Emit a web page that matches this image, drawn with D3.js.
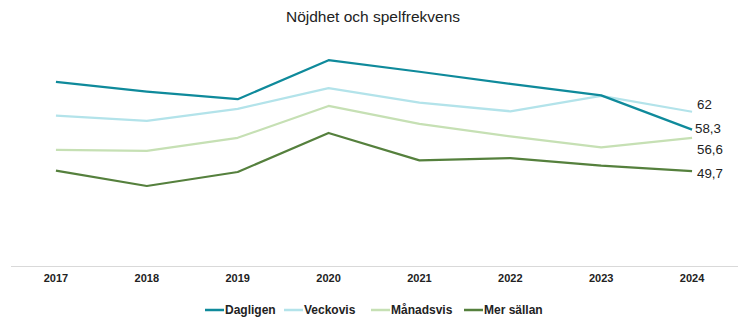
<!DOCTYPE html>
<html><head><meta charset="utf-8">
<script src="https://cdn.jsdelivr.net/npm/d3@7"></script>
<style>body{margin:0;background:#fff}svg{display:block}</style>
</head><body>
<div id="chart"></div>
<script>
const years = ["2017","2018","2019","2020","2021","2022","2023","2024"];
const seriesNames = ["Dagligen","Veckovis","Månadsvis","Mer sällan"];
const dagligen  = [68.2, 66.2, 64.6, 72.7, 70.3, 67.8, 65.4, 58.3];
const veckovis  = [61.2, 60.1, 62.6, 66.9, 63.9, 62.1, 65.3, 62.0];
const manadsvis = [54.1, 53.9, 56.6, 63.2, 59.5, 56.9, 54.6, 56.6];
const merSallan = [49.8, 46.6, 49.5, 57.6, 51.9, 52.4, 50.8, 49.7];
const endLabels = ["58,3","62","56,6","49,7"];
const colors = ["#0f8a9b","#b3e3ea","#c6e0b4","#55803d"];
const seriesValues = [dagligen, veckovis, manadsvis, merSallan];

const W = 746, H = 326;
const svg = d3.select("#chart").append("svg").attr("width", W).attr("height", H);

const x = d3.scaleBand().domain(years).range([10.5, 737.5]);
const y = d3.scaleLinear().domain([30, 80]).range([266, 25]);
const cx = d => x(d) + x.bandwidth() / 2;

svg.append("text").attr("x", 373).attr("y", 22).attr("text-anchor", "middle")
  .attr("font-family", "Liberation Sans, Arial, sans-serif").attr("font-size", 15.5)
  .attr("fill", "#222").text("Nöjdhet och spelfrekvens");

// axis
const xAxis = d3.axisBottom(x).tickSize(0).tickPadding(8);
const gx = svg.append("g").attr("transform", "translate(0,266)").call(xAxis);
gx.select(".domain").attr("stroke", "#d9d9d9").attr("stroke-width", 1);
gx.selectAll("text").attr("font-family", "Liberation Sans, Arial, sans-serif")
  .attr("font-weight", "bold").attr("font-size", 11).attr("fill", "#222");

const line = d3.line().x((d, i) => cx(years[i])).y(d => y(d));

// draw in reverse order so Dagligen is on top
[3,2,1,0].forEach(k => {
  svg.append("path").datum(seriesValues[k]).attr("d", line)
    .attr("fill", "none").attr("stroke", colors[k]).attr("stroke-width", 2.25)
    .attr("stroke-linejoin", "round");
});

// end labels
const labelDy = [-1, -7, 12, 2];
const labelDx = [3, 5, 5, 5];
seriesValues.forEach((vals, k) => {
  const last = vals[vals.length - 1];
  svg.append("text").attr("x", cx(years[years.length - 1]) + labelDx[k])
    .attr("y", y(last) + labelDy[k]).attr("dy", "0.35em")
    .attr("font-family", "Liberation Sans, Arial, sans-serif").attr("font-size", 13.3)
    .attr("fill", "#222").text(endLabels[k]);
});

// legend
const legendX = [205, 284, 371, 464];
const lg = svg.append("g").attr("transform", "translate(0,310)");
seriesNames.forEach((n, k) => {
  lg.append("line").attr("x1", legendX[k]).attr("x2", legendX[k] + 19).attr("y1", 0).attr("y2", 0)
    .attr("stroke", colors[k]).attr("stroke-width", 2.5);
  lg.append("text").attr("x", legendX[k] + 20).attr("y", 0).attr("dy", "0.35em")
    .attr("font-family", "Liberation Sans, Arial, sans-serif")
    .attr("font-weight", "bold").attr("font-size", 12).attr("fill", "#222").text(n);
});
</script>
</body></html>
